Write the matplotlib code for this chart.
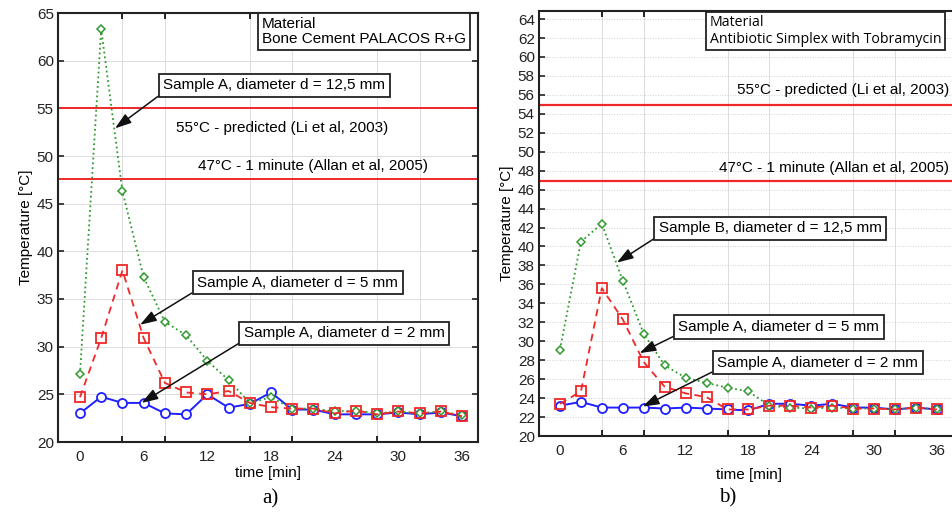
import matplotlib
matplotlib.use("Agg")
import matplotlib.pyplot as plt
from matplotlib.ticker import MultipleLocator

plt.rcParams["font.family"] = ["Liberation Sans", "DejaVu Sans"]

time_min = [0, 2, 4, 6, 8, 10, 12, 14, 16, 18, 20, 22, 24, 26, 28, 30, 32, 34, 36]

# panel a) Bone Cement PALACOS R+G
a_d125 = [27.1, 63.3, 46.3, 37.3, 32.6, 31.2, 28.5, 26.5, 24.1, 24.7,
          23.5, 23.5, 23.2, 23.3, 23.0, 23.2, 23.0, 23.2, 22.8]
a_d5 = [24.7, 30.9, 38.0, 30.9, 26.2, 25.2, 25.0, 25.35, 24.1, 23.65,
        23.5, 23.5, 23.0, 23.3, 22.9, 23.2, 23.0, 23.2, 22.7]
a_d2 = [23.0, 24.75, 24.1, 24.1, 23.0, 22.9, 25.0, 23.6, 24.0, 25.2,
        23.4, 23.4, 22.9, 22.9, 22.9, 23.1, 22.9, 23.1, 22.7]
a_limits = [55.0, 47.6]

# panel b) Antibiotic Simplex with Tobramycin
b_d125 = [29.1, 40.5, 42.4, 36.4, 30.8, 27.45, 26.15, 25.6, 25.1, 24.7,
          23.2, 23.0, 22.9, 23.0, 22.9, 22.9, 22.8, 23.0, 22.8]
b_d5 = [23.4, 24.7, 35.6, 32.3, 27.8, 25.2, 24.5, 24.1, 22.8, 22.8,
        23.2, 23.2, 23.0, 23.2, 22.9, 22.9, 22.8, 23.0, 22.8]
b_d2 = [23.2, 23.6, 23.0, 23.0, 23.0, 22.9, 23.0, 22.9, 22.8, 22.7,
        23.4, 23.4, 23.2, 23.4, 23.0, 23.0, 22.8, 23.0, 22.8]
b_limits = [54.9, 46.9]

GREEN = "#2f9a2f"
RED = "#f02828"
BLUE = "#1f1fff"
FS = 11


def draw_series(ax, d125, d5, d2):
    ax.plot(time_min, d125, color=GREEN, ls=":", lw=1.3, marker="D", ms=4.5,
            mfc="white", mec=GREEN, mew=1.1, zorder=3)
    ax.plot(time_min, d5, color=RED, ls=(0, (4, 3)), lw=1.3, marker="s", ms=7,
            mfc="none", mec=RED, mew=1.3, zorder=4)
    ax.plot(time_min, d2, color=BLUE, ls="-", lw=1.4, marker="o", ms=6.5,
            mfc="white", mec=BLUE, mew=1.3, zorder=2)


def style_axes(ax, xlim, ystep, tick_pad, xlabel_pad):
    ax.set_xlim(xlim[0], xlim[1])
    ax.xaxis.set_major_locator(MultipleLocator(6))
    ax.xaxis.set_minor_locator(MultipleLocator(4))
    ax.yaxis.set_major_locator(MultipleLocator(ystep))
    ax.tick_params(axis="x", which="major", length=0, pad=tick_pad, labelsize=FS, colors="#222")
    ax.tick_params(axis="x", which="minor", direction="in", length=4, top=True, width=1.2)
    ax.tick_params(axis="y", which="major", direction="in", length=4, right=True,
                   labelsize=FS, colors="#222", width=1.2, pad=3)
    ax.grid(True, which="minor", axis="x", color="#dcdcdc", lw=0.7)
    ax.grid(True, which="major", axis="y", color="#dcdcdc", lw=0.7)
    for s in ax.spines.values():
        s.set_linewidth(1.5)
        s.set_color("#222")
    ax.set_xlabel("time [min]", fontsize=FS, labelpad=xlabel_pad)
    ax.set_ylabel("Temperature [°C]", fontsize=FS, labelpad=3)


def label(ax, text, xy, xytext):
    ax.annotate(text, xy=xy, xytext=xytext, ha="center", va="center", fontsize=FS,
                bbox=dict(boxstyle="square,pad=0.3", fc="white", ec="#222", lw=1.3),
                arrowprops=dict(arrowstyle="-|>,head_length=0.9,head_width=0.3",
                                color="#111", lw=1.1, relpos=(0, 0),
                                shrinkA=0, shrinkB=0),
                zorder=6)


fig = plt.figure(figsize=(9.52, 5.15), dpi=100)

# ---- a)
ax1 = fig.add_axes([58 / 952, 1 - 442 / 515, 420 / 952, 429 / 515])
for yv in a_limits:
    ax1.axhline(yv, color=RED, lw=1.4, zorder=2)
draw_series(ax1, a_d125, a_d5, a_d2)
style_axes(ax1, (-2.07, 37.5), 5, tick_pad=6, xlabel_pad=1)
ax1.set_ylim(20, 65)
ax1.text(19, 52.9, "55°C - predicted (Li et al, 2003)", ha="center", va="center", fontsize=FS)
ax1.text(22, 49.0, "47°C - 1 minute (Allan et al, 2005)", ha="center", va="center", fontsize=FS)
ax1.text(0.485, 0.99, "Material\nBone Cement PALACOS R+G", transform=ax1.transAxes,
         ha="left", va="top", fontsize=FS, linespacing=1.1,
         bbox=dict(boxstyle="square,pad=0.25", fc="white", ec="#222", lw=1.3))
label(ax1, "Sample A, diameter d = 12,5 mm", (3.3, 52.9), (18.3, 57.4))
label(ax1, "Sample A, diameter d = 5 mm", (5.66, 32.3), (20.5, 36.7))
label(ax1, "Sample A, diameter d = 2 mm", (5.8, 24.1), (24.9, 31.4))
fig.text(270 / 952, 1 - 499 / 515, "a)", family="Liberation Serif", fontsize=15,
         ha="center", va="center")

# ---- b)
ax2 = fig.add_axes([539 / 952, 1 - 436 / 515, 421 / 952, 425 / 515])
for yv in b_limits:
    ax2.axhline(yv, color=RED, lw=1.6, zorder=2)
draw_series(ax2, b_d125, b_d5, b_d2)
style_axes(ax2, (-2.0, 38.2), 2, tick_pad=6, xlabel_pad=7)
ax2.set_ylim(20, 64.85)
ax2.grid(True, which="major", axis="y", color="#d0d0d0", lw=0.7, ls=":")
ax2.text(37.15, 56.5, "55°C - predicted (Li et al, 2003)", ha="right", va="center", fontsize=FS)
ax2.text(37.15, 48.3, "47°C - 1 minute (Allan et al, 2005)", ha="right", va="center", fontsize=FS)
ax2.text(0.406, 0.99, "Material\nAntibiotic Simplex with Tobramycin", transform=ax2.transAxes,
         ha="left", va="top", fontsize=10.2, linespacing=1.15, family=["Open Sans", "DejaVu Sans"],
         bbox=dict(boxstyle="square,pad=0.25", fc="white", ec="#222", lw=1.3))
label(ax2, "Sample B, diameter d = 12,5 mm", (5.44, 38.3), (20.1, 41.9))
label(ax2, "Sample A, diameter d = 5 mm", (7.6, 28.75), (20.9, 31.5))
label(ax2, "Sample A, diameter d = 2 mm", (7.9, 23.1), (24.6, 27.75))
fig.text(728 / 952, 1 - 498 / 515, "b)", family="Liberation Serif", fontsize=15,
         ha="center", va="center")

fig.savefig("out.png", dpi=100)
